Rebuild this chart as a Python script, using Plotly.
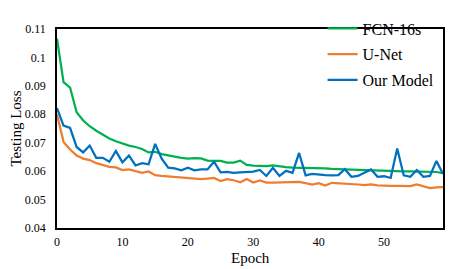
import plotly.graph_objects as go

epochs = list(range(60))

fcn16s = [0.1066, 0.0913, 0.0894, 0.0807, 0.0778, 0.0758, 0.0742, 0.0728, 0.0715, 0.0705,
          0.0697, 0.0690, 0.0685, 0.0678, 0.0666, 0.0668, 0.0660, 0.0655, 0.0651, 0.0647,
          0.0644, 0.0646, 0.0645, 0.0637, 0.0636, 0.0636, 0.0630, 0.0630, 0.0637, 0.0622,
          0.0619, 0.0618, 0.0618, 0.0620, 0.0616, 0.0614, 0.0612, 0.0612, 0.0612, 0.0611,
          0.0611, 0.0610, 0.0608, 0.0606, 0.0606, 0.0605, 0.0604, 0.0603, 0.0603, 0.0602,
          0.0601, 0.0600, 0.0600, 0.0599, 0.0599, 0.0599, 0.0599, 0.0599, 0.0597, 0.0593]

unet = [0.0800, 0.0703, 0.0676, 0.0655, 0.0644, 0.0639, 0.0628, 0.0622, 0.0615, 0.0613,
        0.0604, 0.0606, 0.0600, 0.0594, 0.0599, 0.0586, 0.0583, 0.0581, 0.0579, 0.0576,
        0.0575, 0.0573, 0.0572, 0.0574, 0.0576, 0.0565, 0.0572, 0.0568, 0.0561, 0.0572,
        0.0560, 0.0567, 0.0560, 0.0560, 0.0560, 0.0561, 0.0562, 0.0562, 0.0558, 0.0553,
        0.0558, 0.0549, 0.0559, 0.0558, 0.0556, 0.0555, 0.0553, 0.0551, 0.0553, 0.0550,
        0.0548, 0.0548, 0.0548, 0.0548, 0.0547, 0.0553, 0.0546, 0.0540, 0.0543, 0.0544]

our_model = [0.0822, 0.0760, 0.0752, 0.0685, 0.0666, 0.0690, 0.0647, 0.0647, 0.0633, 0.0671,
             0.0631, 0.0655, 0.0620, 0.0628, 0.0624, 0.0696, 0.0644, 0.0612, 0.0610, 0.0603,
             0.0612, 0.0603, 0.0606, 0.0606, 0.0633, 0.0596, 0.0597, 0.0594, 0.0596, 0.0598,
             0.0598, 0.0604, 0.0583, 0.0612, 0.0583, 0.0601, 0.0594, 0.0664, 0.0585, 0.0590,
             0.0587, 0.0586, 0.0585, 0.0586, 0.0607, 0.0580, 0.0583, 0.0594, 0.0606, 0.0580,
             0.0582, 0.0576, 0.0680, 0.0585, 0.0580, 0.0604, 0.0580, 0.0583, 0.0636, 0.0590]

series_names = ["FCN-16s", "U-Net", "Our Model"]
series_colors = ["#00B050", "#ED7D31", "#0070C0"]
x_ticks = [0, 10, 20, 30, 40, 50]
y_ticks = [0.04, 0.05, 0.06, 0.07, 0.08, 0.09, 0.1, 0.11]
x_title = "Epoch"
y_title = "Testing Loss"

fig = go.Figure()
for name, vals, col in zip(series_names, [fcn16s, unet, our_model], series_colors):
    fig.add_trace(go.Scatter(x=epochs, y=vals, mode="lines", name=name, legendgroup=name,
                             line=dict(color=col, width=2.25)))

font_family = "Liberation Serif"
# page body has an 8px margin, so the figure is 8px smaller and margins shifted
fig.update_layout(
    width=446, height=261,
    margin=dict(l=49, r=11, t=4, b=41),
    paper_bgcolor="white", plot_bgcolor="white",
    font=dict(family=font_family, color="black", size=12),
    showlegend=True,
    legend=dict(x=0.688, y=1.088, xanchor="left", yanchor="top",
                bgcolor="rgba(0,0,0,0)", font=dict(size=16, family=font_family, color="black"),
                tracegroupgap=2),
    xaxis=dict(range=[0, 59], tickvals=x_ticks, showgrid=False, zeroline=False,
               showline=True, linecolor="black", linewidth=1.5, mirror=True,
               ticks="", ticklabelstandoff=2,
               tickfont=dict(size=12, family=font_family, color="black"),
               automargin=False),
    yaxis=dict(range=[0.04, 0.11], tickvals=y_ticks, showgrid=False, zeroline=False,
               showline=True, linecolor="black", linewidth=1.5, mirror=True,
               ticks="", ticklabelstandoff=7,
               tickfont=dict(size=12, family=font_family, color="black"),
               automargin=False),
    annotations=[
        dict(text=x_title, xref="paper", yref="paper", x=0.5, y=0, yshift=-30,
             xanchor="center", yanchor="middle", showarrow=False,
             font=dict(size=15, family=font_family, color="black")),
        dict(text=y_title, xref="paper", yref="paper", x=0, y=0.5, xshift=-42,
             xanchor="center", yanchor="middle", textangle=-90, showarrow=False,
             font=dict(size=15, family=font_family, color="black")),
    ],
)

fig.write_html("out.html")
